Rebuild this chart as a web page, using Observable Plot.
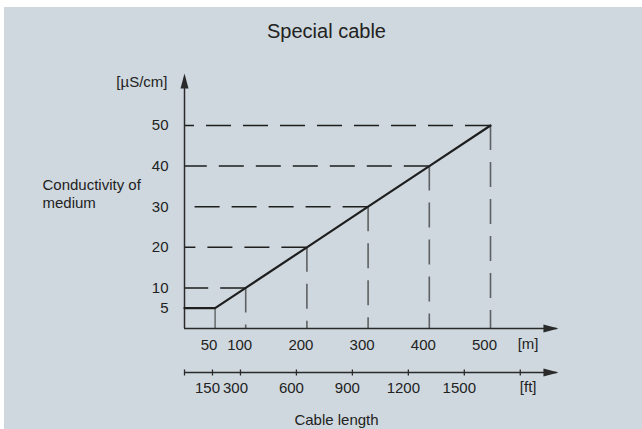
<!DOCTYPE html>
<html><head><meta charset="utf-8">
<script src="https://cdn.jsdelivr.net/npm/d3@7"></script>
<script src="https://cdn.jsdelivr.net/npm/@observablehq/plot@0.6"></script>
<style>
html,body{margin:0;padding:0;background:#fff;}
body{width:642px;height:429px;overflow:hidden;position:relative;font-family:"Liberation Sans",Arial,sans-serif;}
#bg{position:absolute;left:4px;top:7px;right:0;bottom:0;background:#cfd8de;}
#chart{position:absolute;left:0;top:0;}
</style></head>
<body><div id="bg"></div><div id="chart"></div>
<script>
// Data
const lengthM = [0, 50, 100, 200, 300, 400, 500];
const conductivity = [5, 5, 10, 20, 30, 40, 50];
const mTicks = [50, 100, 200, 300, 400, 500];
const yTicks = [5, 10, 20, 30, 40, 50];
const ftTicks = [0, 150, 300, 600, 900, 1200, 1500, 1800];
const ftLabelled = [150, 300, 600, 900, 1200, 1500];
const M_PER_FT = 0.3048;
const xArrowTip = 611;   // axis extent, metres
const yArrowTip = 62.8;  // axis extent, µS/cm

const pts = lengthM.map((m, i) => ({m, c: conductivity[i]}));
const refPts = pts.filter(d => d.m >= 100);
const kneePt = pts.filter(d => d.m === 50);

const arrowUp = {draw(ctx) { ctx.moveTo(0, 0); ctx.lineTo(-4, 15); ctx.lineTo(4, 15); ctx.closePath(); }};
const tickSym = {draw(ctx) { ctx.moveTo(0, -3); ctx.lineTo(0, 3); }};

const ink = "#1e1e1e";
const axisInk = "#2a2a2a";
const grey = "#5e6163";
const FS = 15;

const chart = Plot.plot({
  width: 642, height: 429,
  marginLeft: 184, marginRight: 152, marginTop: 125, marginBottom: 101,
  style: {background: "transparent", fontSize: FS + "px", fontFamily: "'Liberation Sans', Arial, sans-serif", color: "#222"},
  x: {domain: [0, 500]},
  y: {domain: [0, 50]},
  marks: [
    Plot.ruleY(refPts, {y: "c", x1: "m", x2: () => 0, stroke: ink, strokeWidth: 1.5, strokeDasharray: "25,12"}),
    Plot.ruleX(refPts, {x: "m", y1: "c", y2: () => 0, stroke: grey, strokeWidth: 1.6, strokeDasharray: "25,12"}),
    Plot.ruleX(kneePt, {x: "m", y1: "c", y2: () => 0, stroke: grey, strokeWidth: 1.4}),
    Plot.ruleX([0], {y1: 0, y2: yArrowTip - 1, stroke: axisInk, strokeWidth: 1.5}),
    Plot.ruleY([0], {x1: 0, x2: xArrowTip - 2, stroke: axisInk, strokeWidth: 1.5}),
    Plot.dot([0], {x: () => 0, y: () => yArrowTip, symbol: arrowUp, fill: axisInk, stroke: null}),
    Plot.dot([0], {x: () => xArrowTip, y: () => 0, symbol: arrowUp, rotate: 90, fill: axisInk, stroke: null}),
    Plot.ruleY([0], {x1: 0, x2: xArrowTip - 2, dy: 44, stroke: axisInk, strokeWidth: 1.3}),
    Plot.dot(ftTicks, {x: f => f * M_PER_FT, y: () => 0, dy: 44, symbol: tickSym, stroke: axisInk, strokeWidth: 1.3}),
    Plot.dot([0], {x: () => xArrowTip, y: () => 0, dy: 44, symbol: arrowUp, rotate: 90, fill: axisInk, stroke: null}),
    Plot.line(pts, {x: "m", y: "c", stroke: ink, strokeWidth: 2.2}),
    Plot.axisY({ticks: yTicks, tickSize: 0, tickPadding: 16, label: null, fontSize: FS}),
    Plot.axisX({ticks: mTicks, tickSize: 0, tickPadding: 11, dx: -6, label: null, fontSize: FS}),
    Plot.axisX({ticks: ftLabelled.map(f => f * M_PER_FT), tickFormat: d => String(Math.round(d / M_PER_FT)), tickSize: 0, tickPadding: 53.5, dx: -5, label: null, fontSize: FS}),
    Plot.text(["Special cable"], {frameAnchor: "top", dx: -11, dy: -94, fontSize: 20, lineAnchor: "middle"}),
    Plot.text(["[µS/cm]"], {frameAnchor: "top-left", textAnchor: "end", dx: -17, dy: -43, fontSize: FS, lineAnchor: "middle"}),
    Plot.text(["Conductivity of\nmedium"], {frameAnchor: "left", textAnchor: "start", dx: -142, dy: -34, fontSize: FS, lineHeight: 1.25, lineAnchor: "middle"}),
    Plot.text(["[m]"], {frameAnchor: "bottom-right", dx: 48, dy: 16, fontSize: FS, lineAnchor: "middle"}),
    Plot.text(["[ft]"], {frameAnchor: "bottom-right", dx: 46, dy: 58.7, fontSize: FS, lineAnchor: "middle"}),
    Plot.text(["Cable length"], {frameAnchor: "bottom", dx: -1, dy: 92, fontSize: FS, lineAnchor: "middle"})
  ]
});
document.getElementById("chart").appendChild(chart);
</script>
</body></html>
